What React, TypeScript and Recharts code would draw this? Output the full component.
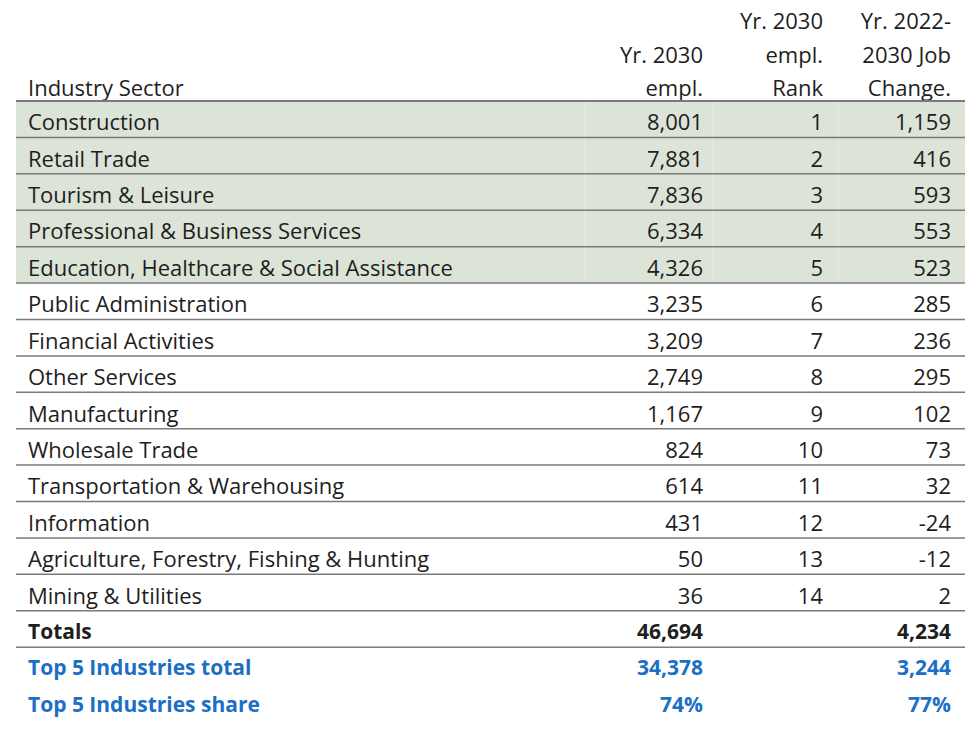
import React from 'react';
import { ComposedChart, XAxis, YAxis, Customized } from 'recharts';

const sectors = [
  'Construction',
  'Retail Trade',
  'Tourism & Leisure',
  'Professional & Business Services',
  'Education, Healthcare & Social Assistance',
  'Public Administration',
  'Financial Activities',
  'Other Services',
  'Manufacturing',
  'Wholesale Trade',
  'Transportation & Warehousing',
  'Information',
  'Agriculture, Forestry, Fishing & Hunting',
  'Mining & Utilities',
];
const empl2030 = [8001, 7881, 7836, 6334, 4326, 3235, 3209, 2749, 1167, 824, 614, 431, 50, 36];
const emplRank = [1, 2, 3, 4, 5, 6, 7, 8, 9, 10, 11, 12, 13, 14];
const jobChange = [1159, 416, 593, 553, 523, 285, 236, 295, 102, 73, 32, -24, -12, 2];

const summaryLabels = ['Totals', 'Top 5 Industries total', 'Top 5 Industries share'];
const summaryEmpl = ['46,694', '34,378', '74%'];
const summaryChange = ['4,234', '3,244', '77%'];

const headerCols = [
  ['', 'Yr. 2030', 'empl.'],
  ['Yr. 2030', 'empl.', 'Rank'],
  ['Yr. 2022-', '2030 Job', 'Change.'],
];

const FONT = '"Open Sans", sans-serif';
const FS = 22;
const FS_BOLD = 21;
const TEXT = '#1e1e1e';
const BLUE = '#1b6fc4';
const GREEN = '#dce3d7';
const LINE = '#7a7a7a';
const LEFT = 16;
const RIGHT = 965;
const TEXT_X = 28;
const COL_X = [703, 823, 951];
const CELL_EDGES = [585, 713, 838];

const fmt = (n: number) => n.toLocaleString('en-US');

type Row = {
  sector: string;
  cells: string[];
  kind: 'top' | 'body' | 'total' | 'share';
};

const rows: Row[] = [
  ...sectors.map((s, i) => ({
    sector: s,
    cells: [fmt(empl2030[i]), String(emplRank[i]), fmt(jobChange[i])],
    kind: (emplRank[i] <= 5 ? 'top' : 'body') as Row['kind'],
  })),
  { sector: summaryLabels[0], cells: [summaryEmpl[0], '', summaryChange[0]], kind: 'total' },
  { sector: summaryLabels[1], cells: [summaryEmpl[1], '', summaryChange[1]], kind: 'share' },
  { sector: summaryLabels[2], cells: [summaryEmpl[2], '', summaryChange[2]], kind: 'share' },
];

const ROW_H = (731 - 101 - 11) / rows.length;

const RowTick = (props: any) => {
  const { y, index } = props;
  const row = rows[index];
  if (!row) return null;
  const top = y - ROW_H / 2;
  const color = row.kind === 'share' ? BLUE : TEXT;
  const bold = row.kind === 'total' || row.kind === 'share';
  const ty = y + 2;
  const size = bold ? FS_BOLD : FS;
  return (
    <g>
      {row.kind === 'top' && (
        <>
          <rect x={LEFT} y={top} width={RIGHT - LEFT} height={ROW_H} fill={GREEN} />
          {CELL_EDGES.map((cx) => (
            <line key={cx} x1={cx} x2={cx} y1={top} y2={top + ROW_H} stroke="#e6ebe2" strokeWidth={1} />
          ))}
        </>
      )}
      {index <= 15 && (
        <line
          x1={LEFT}
          x2={RIGHT}
          y1={top}
          y2={top}
          stroke={LINE}
          strokeWidth={index === 0 ? 2 : 1.5}
        />
      )}
      <text
        x={TEXT_X}
        y={ty}
        dominantBaseline="central"
        fontFamily={FONT}
        fontSize={size}
        fontWeight={bold ? 700 : 400}
        fill={color}
      >
        {row.sector}
      </text>
      {row.cells.map((c, j) => (
        <text
          key={j}
          x={COL_X[j]}
          y={ty}
          textAnchor="end"
          dominantBaseline="central"
          fontFamily={FONT}
          fontSize={size}
          fontWeight={bold ? 700 : 400}
          fill={color}
        >
          {c}
        </text>
      ))}
    </g>
  );
};

const Header = () => (
  <g fontFamily={FONT} fontSize={FS} fill={TEXT}>
    <text x={TEXT_X} y={87} dominantBaseline="central">
      Industry Sector
    </text>
    {headerCols.map((lines, j) =>
      lines.map((t, k) =>
        t ? (
          <text key={`${j}-${k}`} x={COL_X[j]} y={20 + k * 33.5} textAnchor="end" dominantBaseline="central">
            {t}
          </text>
        ) : null
      )
    )}
  </g>
);

export default function App() {
  return (
    <div style={{ position: 'absolute', left: 0, top: 0, width: 980, height: 731, background: '#fff' }}>
      <ComposedChart
        width={980}
        height={731}
        layout="vertical"
        data={rows}
        margin={{ top: 101, right: 0, bottom: 11, left: 0 }}
      >
        <XAxis type="number" hide domain={[0, 1]} />
        <YAxis
          type="category"
          scale="band"
          dataKey="sector"
          width={1}
          interval={0}
          axisLine={false}
          tickLine={false}
          tick={<RowTick />}
        />
        <Customized component={Header} />
      </ComposedChart>
    </div>
  );
}
